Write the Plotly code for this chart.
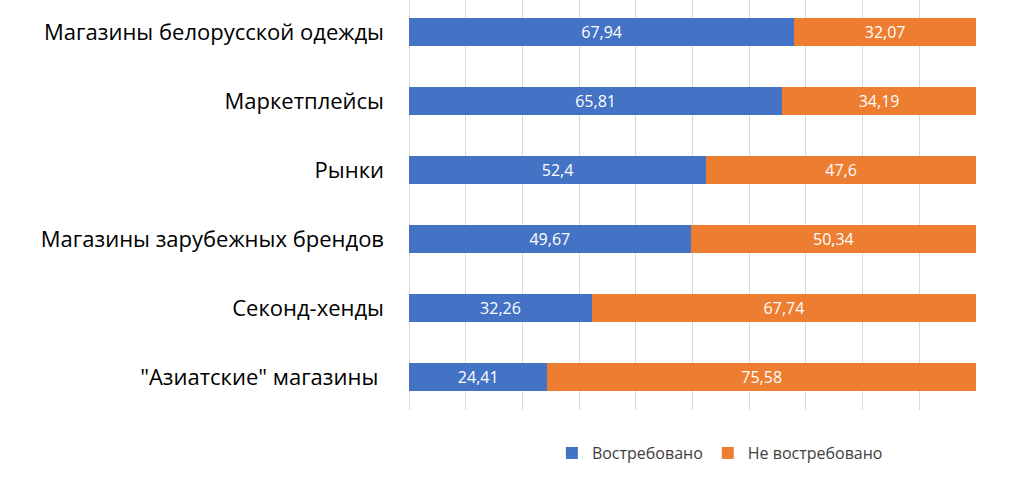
import plotly.graph_objects as go

categories = [
    "Магазины белорусской одежды",
    "Маркетплейсы",
    "Рынки",
    "Магазины зарубежных брендов",
    "Секонд-хенды",
    "\"Азиатские\" магазины ",
]
demanded = [67.94, 65.81, 52.4, 49.67, 32.26, 24.41]
not_demanded = [32.07, 34.19, 47.6, 50.34, 67.74, 75.58]
series_names = ["Востребовано", "Не востребовано"]
colors = ["#4472C4", "#ED7D31"]


def fmt(v):
    s = ("%.2f" % v).rstrip("0").rstrip(".")
    return s.replace(".", ",")


FONT = "Open Sans"

fig = go.Figure()
for name, vals, col in zip(series_names, [demanded, not_demanded], colors):
    fig.add_trace(go.Bar(
        y=categories, x=vals, name=name, orientation="h",
        marker=dict(color=col, line=dict(width=0)),
        text=[fmt(v) for v in vals], textposition="inside",
        insidetextanchor="middle",
        textfont=dict(color="white", size=16, family=FONT),
    ))

fig.update_layout(
    width=1024, height=477,
    barmode="stack", bargap=0.59,
    margin=dict(l=409, r=48, t=0, b=67),
    paper_bgcolor="white", plot_bgcolor="white",
    font=dict(family=FONT, color="#000000"),
    uniformtext=dict(minsize=8, mode="show"),
    legend=dict(orientation="h", x=0.252, xanchor="left", y=-0.105, yanchor="middle",
                traceorder="normal",
                font=dict(size=16, color="#404040", family=FONT),
                itemwidth=30, tracegroupgap=0),
    xaxis=dict(range=[0, 100], dtick=10, tick0=0, showticklabels=False,
               showgrid=True, gridcolor="#D9D9D9", gridwidth=1,
               zeroline=True, zerolinecolor="#D9D9D9", zerolinewidth=1,
               showline=False, fixedrange=True),
    yaxis=dict(type="category", categoryorder="array", categoryarray=categories,
               range=[5.478, -0.464], showgrid=False, showline=False, zeroline=False,
               ticks="", ticklabelstandoff=24,
               tickfont=dict(size=22, color="#000000", family=FONT)),
)

fig.write_html("out.html", config={"displayModeBar": False},
               post_script="document.body.style.margin='0';")
